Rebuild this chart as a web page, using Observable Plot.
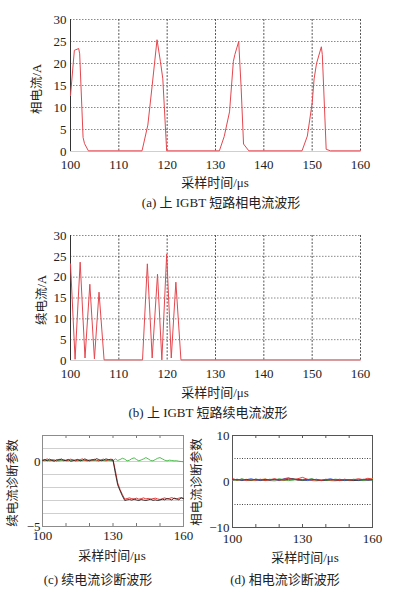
<!DOCTYPE html>
<html><head><meta charset="utf-8">
<script src="https://cdn.jsdelivr.net/npm/d3@7"></script>
<script src="https://cdn.jsdelivr.net/npm/@observablehq/plot@0.6"></script>
<style>
html,body{margin:0;padding:0;background:#fff}
body{width:397px;height:615px;position:relative;overflow:hidden;font-family:"Liberation Serif","Noto Sans CJK SC",serif;color:#222}
.p{position:absolute}
.t{position:absolute;white-space:nowrap;font-size:13px;line-height:1;transform:translate(-50%,-50%)}
.v{transform:translate(-50%,-50%) rotate(-90deg);font-size:12.5px}
</style></head><body>
<div id="pa" class="p" style="left:0;top:0;width:397px"></div>
<div id="pb" class="p" style="left:0;top:216px;width:397px"></div>
<div id="pc" class="p" style="left:0;top:420px;width:200px"></div>
<div id="pd" class="p" style="left:180px;top:420px;width:217px"></div>

<div class="t v" style="left:37px;top:89px">相电流/A</div>
<div class="t" style="left:215px;top:182px">采样时间/μs</div>
<div class="t" style="left:221px;top:202px">(a) 上 IGBT 短路相电流波形</div>

<div class="t v" style="left:42px;top:300px">续电流/A</div>
<div class="t" style="left:215px;top:392px">采样时间/μs</div>
<div class="t" style="left:208px;top:412px">(b) 上 IGBT 短路续电流波形</div>

<div class="t v" style="left:13px;top:483px">续电流诊断参数</div>
<div class="t" style="left:112px;top:555px">采样时间/μs</div>
<div class="t" style="left:98px;top:579px">(c) 续电流诊断波形</div>

<div class="t v" style="left:197px;top:482px">相电流诊断参数</div>
<div class="t" style="left:305px;top:557px">采样时间/μs</div>
<div class="t" style="left:285px;top:579px">(d) 相电流诊断波形</div>

<script>
// ---- Panel (a): phase current ----
const tA = [100,100.8,101.7,101.9,102.6,102.9,103.7,114.8,116.0,116.9,117.9,118.6,119.1,119.9,130.8,131.8,132.9,133.7,134.0,134.8,135.3,135.8,136.9,147.9,149.0,150.0,150.4,150.9,151.9,152.1,152.9,153.8,160];
const iA = [12.7,23.0,23.4,22.2,3.2,1.8,0.15,0.15,6.0,15.0,25.4,20.5,16.5,0.15,0.15,3.4,9.0,20.5,22.0,25.0,14.6,1.7,0.15,0.15,3.5,11.0,16.5,20.0,23.8,22.0,0.5,0.15,0.15];

// ---- Panel (b): freewheeling current ----
const tB = [100,100.95,102.0,103.0,104.0,104.95,105.9,106.95,114.9,115.9,116.9,118.0,118.9,119.9,120.85,121.8,122.85,160];
const iB = [23.2,0.3,23.6,0.6,18.3,0.4,16.4,0.15,0.15,23.2,0.6,20.7,0.15,25.5,0.6,18.8,0.15,0.15];

// shared ticks for (a),(b)
const xTicksAB = [100,110,120,130,140,150,160];
const yTicksAB = [0,5,10,15,20,25,30];
const hGridAB = [5,10,15,20,25,30];
const vGridAB = [110,120,130,140,150,160];

// ---- Panel (c): freewheeling diagnostic ----
const tC = [100,101,102,103,104,105,106,107,108,109,110,111,112,113,114,115,116,117,118,119,120,121,122,123,124,125,126,127,128,129,130,131,132,133,134,135,136,137,138,139,140,141,142,143,144,145,146,147,148,149,150,151,152,153,154,155,156,157,158,159,160];
const blackC = [0.10,0.15,0.05,0.18,0.08,0.02,0.14,0.10,0.20,0.06,0.10,0.16,0.02,0.06,0.12,0.16,0.04,0.10,0.20,0.12,0.06,0.15,0.10,0.22,0.15,0.06,0.10,0.20,0.15,0.12,0.10,-0.90,-1.80,-2.25,-2.65,-3.00,-2.95,-2.92,-2.97,-2.90,-2.96,-3.00,-2.92,-2.97,-3.00,-2.95,-2.90,-2.99,-2.95,-3.00,-2.96,-2.90,-2.95,-2.85,-2.90,-2.96,-2.82,-2.86,-2.95,-2.80,-2.86];
const redC = [0.05,0.12,0.20,0.08,0.14,0.10,0.04,0.18,0.12,0.15,0.06,0.10,0.18,0.12,0.04,0.10,0.15,0.20,0.08,0.05,0.12,0.08,0.18,0.10,0.05,0.14,0.18,0.08,0.12,0.18,0.15,-0.70,-1.65,-2.15,-2.55,-2.90,-2.85,-2.80,-2.86,-2.88,-2.82,-2.90,-2.86,-2.80,-2.88,-2.84,-2.90,-2.86,-2.82,-2.88,-2.92,-2.86,-2.80,-2.88,-2.84,-2.78,-2.85,-2.90,-2.82,-2.78,-2.84];
const greenC = [0.08,0.06,0.10,0.05,0.08,0.12,0.06,0.04,0.08,0.10,0.06,0.05,0.09,0.12,0.07,0.05,0.08,0.06,0.10,0.07,0.04,0.08,0.10,0.06,0.05,0.09,0.07,0.05,0.08,0.06,0.05,0.20,0.08,0.15,0.25,0.18,0.05,0.10,0.22,0.28,0.15,0.05,0.12,0.20,0.30,0.20,0.08,0.05,0.15,0.25,0.30,0.20,0.10,0.05,0.10,0.08,0.05,0.06,0.02,0.00,-0.02];
const xTicksC = [100,130,160];
const yTicksC = [0,-5];
const gridC = [1,0,-1,-2,-3,-4];
const minorC = [110,120,130,140,150];

// ---- Panel (d): phase diagnostic ----
const tD = [100,102,104,106,108,110,112,114,116,118,120,122,124,126,128,130,132,134,136,138,140,142,144,146,148,150,152,154,156,158,160];
const redD = [0.6,0.3,0.5,0.2,0.4,0.3,0.5,0.2,0.4,0.6,0.3,0.5,0.7,0.4,0.6,0.9,0.5,0.3,0.4,0.2,0.5,0.3,0.4,0.2,0.5,0.3,0.4,0.6,0.4,0.7,0.5];
const blueD = [0.3,0.5,0.2,0.4,0.6,0.3,0.2,0.5,0.3,0.4,0.2,0.6,0.8,0.5,0.3,0.4,0.2,0.3,0.5,0.2,0.4,0.6,0.3,0.5,0.2,0.4,0.3,0.2,0.5,0.3,0.4];
const greenD = [0.4,0.2,0.6,0.3,0.2,0.5,0.4,0.2,0.5,0.3,0.6,0.4,0.2,0.3,0.5,0.2,0.4,0.6,0.3,0.4,0.2,0.3,0.5,0.4,0.2,0.3,0.5,0.3,0.2,0.4,0.3];
const orangeD = [0.2,0.4,0.3,0.5,0.2,0.2,0.4,0.6,0.2,0.1,0.3,0.2,0.4,0.6,0.2,0.3,0.5,0.2,0.1,0.3,0.4,0.2,0.1,0.3,0.4,0.2,0.2,0.4,0.3,0.5,0.6];
const blackD = [0.5,0.4,0.3,0.4,0.3,0.5,0.3,0.4,0.3,0.5,0.4,0.3,0.5,0.6,0.4,0.3,0.4,0.5,0.3,0.2,0.3,0.4,0.3,0.2,0.4,0.3,0.2,0.3,0.4,0.3,0.4];
const xTicksD = [100,130,160];
const yTicksD = [10,0,-10];
const gridD = [5,-5];
const minorD = [110,120,130,140,150];

const fontStyle = {fontFamily:'"Liberation Serif","Noto Sans CJK SC",serif', fontSize:"13px", color:"#222", background:"transparent", overflow:"visible"};

function wave(t, v, el, h) {
  const data = t.map((x,i)=>({t:x, v:v[i]}));
  const p = Plot.plot({
    width: 397, height: h, marginLeft: 70, marginRight: 37, marginTop: 19, marginBottom: 25,
    style: fontStyle,
    x: {domain:[100,160], label:null},
    y: {domain:[0,30], label:null},
    marks: [
      Plot.ruleY(hGridAB, {stroke:"#8a8a8a", strokeDasharray:"1.5,1.5"}),
      Plot.ruleY([0], {stroke:"#cfcfcf"}),
      Plot.ruleX(vGridAB, {stroke:"#555", strokeDasharray:"2,1.5"}),
      Plot.ruleX([100], {stroke:"#333"}),
      Plot.line(data, {x:"t", y:"v", stroke:"#e4474e", strokeWidth:1}),
      Plot.axisX(xTicksAB, {tickSize:0, tickPadding:8, label:null}),
      Plot.axisY(yTicksAB, {tickSize:0, tickPadding:4, label:null})
    ]
  });
  document.getElementById(el).append(p);
}
wave(tA, iA, "pa", 176);
wave(tB, iB, "pb", 169);

// panel (c)
{
  const rows = (arr)=>tC.map((x,i)=>({t:x, v:arr[i]}));
  const p = Plot.plot({
    width: 200, height: 130, marginLeft: 42, marginRight: 17, marginTop: 15, marginBottom: 24,
    style: fontStyle,
    x: {domain:[100,160], label:null},
    y: {domain:[-5,2], label:null},
    marks: [
      Plot.ruleY(gridC, {stroke:"#cfcfcf"}),
      Plot.ruleX(minorC, {y1:2, y2:1.77, stroke:"#777"}),
      Plot.ruleX(minorC, {y1:-5, y2:-4.77, stroke:"#777"}),
      Plot.frame({stroke:"#8c8c8c"}),
      Plot.line(rows(greenC), {x:"t", y:"v", stroke:"#3cb43c", strokeWidth:0.9}),
      Plot.line(rows(redC), {x:"t", y:"v", stroke:"#e02020", strokeWidth:0.9}),
      Plot.line(rows(blackC), {x:"t", y:"v", stroke:"#222", strokeWidth:0.9}),
      Plot.axisX(xTicksC, {tickSize:0, tickPadding:4, label:null}),
      Plot.axisY(yTicksC, {tickSize:0, tickPadding:2, label:null})
    ]
  });
  document.getElementById("pc").append(p);
}

// panel (d)
{
  const rows = (arr)=>tD.map((x,i)=>({t:x, v:arr[i]}));
  const p = Plot.plot({
    width: 217, height: 130, marginLeft: 52, marginRight: 25, marginTop: 15, marginBottom: 23,
    style: fontStyle,
    x: {domain:[100,160], label:null},
    y: {domain:[-10,10], label:null},
    marks: [
      Plot.ruleY(gridD, {stroke:"#444", strokeDasharray:"1,1.5"}),
      Plot.ruleX(minorD, {y1:10, y2:9.35, stroke:"#555"}),
      Plot.ruleX(minorD, {y1:-10, y2:-9.35, stroke:"#555"}),
      Plot.frame({stroke:"#555"}),
      Plot.line(rows(orangeD), {x:"t", y:"v", stroke:"#f0a030", strokeWidth:0.9}),
      Plot.line(rows(greenD), {x:"t", y:"v", stroke:"#30a030", strokeWidth:0.9}),
      Plot.line(rows(blueD), {x:"t", y:"v", stroke:"#3050d0", strokeWidth:0.9}),
      Plot.line(rows(blackD), {x:"t", y:"v", stroke:"#333", strokeWidth:0.9}),
      Plot.line(rows(redD), {x:"t", y:"v", stroke:"#e02828", strokeWidth:0.9}),
      Plot.axisX(xTicksD, {tickSize:0, tickPadding:6, label:null}),
      Plot.axisY(yTicksD, {tickSize:0, tickPadding:3, label:null})
    ]
  });
  document.getElementById("pd").append(p);
}
</script>
</body></html>
